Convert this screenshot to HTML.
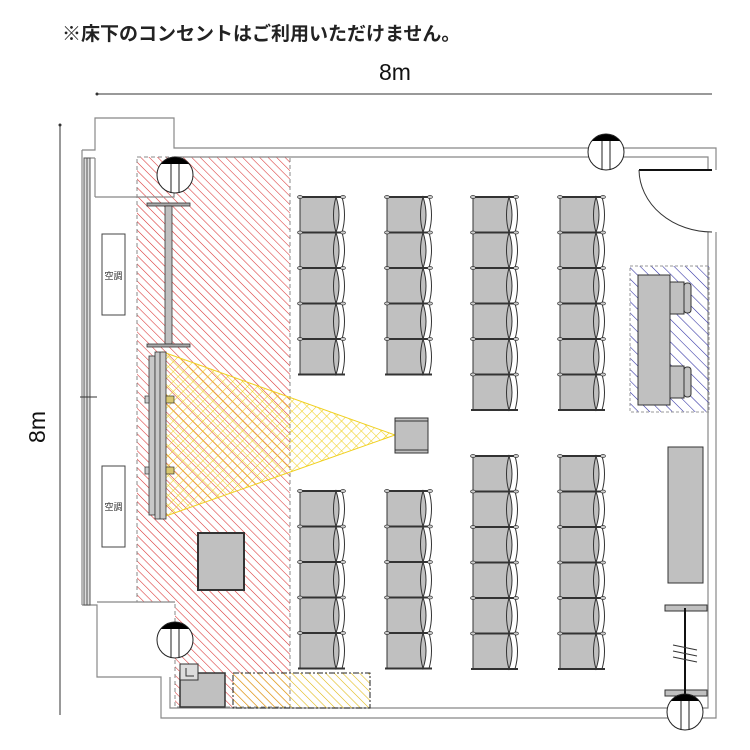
<!DOCTYPE html>
<html><head><meta charset="utf-8"><style>
html,body{margin:0;padding:0;background:#fff;width:750px;height:750px;overflow:hidden}
svg{display:block}
</style></head><body>
<svg width="750" height="750" viewBox="0 0 750 750" xmlns="http://www.w3.org/2000/svg">
<defs>
<pattern id="red" patternUnits="userSpaceOnUse" width="6" height="6" patternTransform="rotate(-45)">
<line x1="0" y1="0" x2="0" y2="6" stroke="#d83030" stroke-width="1.1"/></pattern>
<pattern id="blue" patternUnits="userSpaceOnUse" width="8" height="8" patternTransform="rotate(-45)">
<line x1="0" y1="0" x2="0" y2="8" stroke="#2a2aa0" stroke-width="1.1"/></pattern>
<pattern id="yel" patternUnits="userSpaceOnUse" width="6" height="6" patternTransform="rotate(-45)">
<line x1="0" y1="0" x2="0" y2="6" stroke="#e0b810" stroke-width="1.1"/></pattern>
<pattern id="yx" patternUnits="userSpaceOnUse" width="7" height="7" patternTransform="rotate(45)">
<line x1="0" y1="0" x2="0" y2="7" stroke="#f0d020" stroke-width="1.1"/><line x1="0" y1="0" x2="7" y2="0" stroke="#f0d020" stroke-width="1.1"/></pattern>
<g id="ch">
<rect x="2" y="0" width="36" height="35.5" fill="#c0c0c0" stroke="#333" stroke-width="1"/>
<path d="M38 0 Q44 18 38 35.5 Q33 18 38 0Z" fill="#c0c0c0" stroke="#333" stroke-width="1"/>
<path d="M44 0 Q49 18 44 35.5" fill="none" stroke="#333" stroke-width="1"/>
<line x1="0" y1="0" x2="47" y2="0" stroke="#333" stroke-width="2"/>
<ellipse cx="2" cy="0" rx="2.5" ry="1.5" fill="#ccc" stroke="#333" stroke-width=".7"/>
<ellipse cx="45" cy="0" rx="2.5" ry="1.5" fill="#ccc" stroke="#333" stroke-width=".7"/>
</g>
<g id="out">
<circle cx="0" cy="0" r="18" fill="#fff" stroke="#222" stroke-width="1"/>
<path d="M-14 -11 A18 18 0 0 1 14 -11Z" fill="#000"/>
<line x1="-4" y1="-11" x2="-4" y2="18" stroke="#222"/><line x1="4" y1="-11" x2="4" y2="18" stroke="#222"/>
</g>
</defs>

<text x="62" y="40" font-family="'Liberation Sans','Noto Sans CJK JP',sans-serif" font-size="19" font-weight="bold" fill="#222">※床下のコンセントはご利用いただけません。</text>
<text x="379" y="80" font-family="'Liberation Sans',sans-serif" font-size="23" fill="#111">8m</text>
<line x1="97" y1="94" x2="712" y2="94" stroke="#333"/>
<circle cx="97" cy="94" r="1.5" fill="#333"/>
<text transform="translate(45,427) rotate(-90)" text-anchor="middle" font-family="'Liberation Sans',sans-serif" font-size="23" fill="#111">8m</text>
<line x1="60" y1="125" x2="60" y2="715" stroke="#333"/>
<circle cx="60" cy="125" r="1.5" fill="#333"/>

<path d="M137 157 H290 V707 H175 V602 H137Z" fill="url(#red)" stroke="#888" stroke-dasharray="4,3"/>
<g fill="none" stroke="#888" stroke-width="1.2">
<path d="M82 150 H95 V118 H174 V148 H716 V170"/>
<path d="M90 158 H95"/>
<path d="M174 157 H708 V170"/>
<path d="M716 232 V718 H161 V677 H97 V605 H82"/>
<path d="M708 232 V708 H170 V677"/>
<path d="M95 197 H174 V157"/>
<path d="M95 197 V158"/>
<path d="M97 602 H175"/>
<path d="M82 150 V605"/>
</g>
<rect x="84" y="158" width="6" height="447" fill="#ddd" stroke="#555"/>
<line x1="87" y1="158" x2="87" y2="605" stroke="#555"/>
<line x1="80" y1="397" x2="97" y2="397" stroke="#333"/>
<line x1="639" y1="170" x2="712" y2="170" stroke="#111" stroke-width="2"/>
<path d="M639 170 A73 63 0 0 0 712 232" fill="none" stroke="#333"/>

<rect x="102" y="234" width="23" height="81" fill="#fff" stroke="#444"/>
<text x="113.5" y="279" text-anchor="middle" font-family="'Noto Sans CJK JP',sans-serif" font-size="9" fill="#333">空調</text>
<rect x="102" y="466" width="23" height="81" fill="#fff" stroke="#444"/>
<text x="113.5" y="510" text-anchor="middle" font-family="'Noto Sans CJK JP',sans-serif" font-size="9" fill="#333">空調</text>

<rect x="147" y="203" width="43" height="3" fill="#aaa" stroke="#333" stroke-width=".8"/>
<rect x="165" y="206" width="7" height="138" fill="#c0c0c0" stroke="#333" stroke-width=".8"/>
<rect x="147" y="344" width="43" height="3" fill="#aaa" stroke="#333" stroke-width=".8"/>
<path d="M163 352 L395 435 L163 517Z" fill="url(#yx)" stroke="#f0d020" stroke-width="1"/>
<rect x="149" y="356" width="6" height="159" fill="#c8c8c8" stroke="#333" stroke-width=".8"/>
<rect x="155" y="352" width="11" height="167" fill="#c8c8c8" stroke="#333" stroke-width=".8"/>
<line x1="160" y1="352" x2="160" y2="519" stroke="#333" stroke-width=".8"/>
<rect x="145" y="396" width="4" height="7" fill="#ccc" stroke="#333" stroke-width=".7"/>
<rect x="145" y="467" width="4" height="7" fill="#ccc" stroke="#333" stroke-width=".7"/>
<rect x="166" y="396" width="8" height="7" fill="#d8c870" stroke="#333" stroke-width=".7"/>
<rect x="166" y="467" width="8" height="7" fill="#d8c870" stroke="#333" stroke-width=".7"/>
<rect x="395" y="418" width="33" height="35" fill="#c0c0c0" stroke="#333"/>
<line x1="395" y1="421" x2="428" y2="421" stroke="#333"/><line x1="395" y1="450" x2="428" y2="450" stroke="#333"/>

<rect x="198" y="533" width="46" height="57" fill="#c0c0c0" stroke="#333" stroke-width="2"/>
<rect x="180" y="673" width="45" height="34" fill="#c0c0c0" stroke="#333" stroke-width="1.5"/>
<rect x="180" y="664" width="18" height="16" fill="#ddd" stroke="#333"/>
<path d="M186 668 V676 H194" fill="none" stroke="#333"/>
<rect x="233" y="673" width="137" height="35" fill="url(#yel)" stroke="#222" stroke-dasharray="6,2,2,2"/>

<rect x="630" y="266" width="79" height="146" fill="url(#blue)" stroke="#999" stroke-dasharray="3,2"/>
<rect x="638" y="275" width="32" height="130" fill="#c0c0c0" stroke="#333"/>
<rect x="670" y="282" width="14" height="32" fill="#c0c0c0" stroke="#333"/>
<rect x="684" y="283" width="7" height="30" rx="3" fill="#c0c0c0" stroke="#333"/>
<rect x="670" y="366" width="14" height="32" fill="#c0c0c0" stroke="#333"/>
<rect x="684" y="367" width="7" height="30" rx="3" fill="#c0c0c0" stroke="#333"/>
<rect x="668" y="447" width="35" height="136" fill="#c0c0c0" stroke="#333"/>
<rect x="665" y="605" width="42" height="6" fill="#c0c0c0" stroke="#333"/>
<rect x="665" y="690" width="42" height="6" fill="#c0c0c0" stroke="#333"/>
<line x1="685" y1="608" x2="685" y2="700" stroke="#111" stroke-width="2"/>
<g stroke="#333"><line x1="673" y1="645" x2="697" y2="650"/><line x1="673" y1="651" x2="697" y2="656"/><line x1="673" y1="657" x2="697" y2="662"/></g>

<use href="#out" x="175" y="175"/>
<use href="#out" x="606" y="152"/>
<use href="#out" x="175" y="640"/>
<use href="#out" x="685" y="712"/>

<g>
<use href="#ch" x="298" y="197"/><use href="#ch" x="298" y="232.5"/><use href="#ch" x="298" y="268"/><use href="#ch" x="298" y="303.5"/><use href="#ch" x="298" y="339"/>
<use href="#ch" x="385" y="197"/><use href="#ch" x="385" y="232.5"/><use href="#ch" x="385" y="268"/><use href="#ch" x="385" y="303.5"/><use href="#ch" x="385" y="339"/>
<use href="#ch" x="471" y="197"/><use href="#ch" x="471" y="232.5"/><use href="#ch" x="471" y="268"/><use href="#ch" x="471" y="303.5"/><use href="#ch" x="471" y="339"/><use href="#ch" x="471" y="374.5"/>
<use href="#ch" x="558" y="197"/><use href="#ch" x="558" y="232.5"/><use href="#ch" x="558" y="268"/><use href="#ch" x="558" y="303.5"/><use href="#ch" x="558" y="339"/><use href="#ch" x="558" y="374.5"/>
<use href="#ch" x="298" y="491"/><use href="#ch" x="298" y="526.5"/><use href="#ch" x="298" y="562"/><use href="#ch" x="298" y="597.5"/><use href="#ch" x="298" y="633"/>
<use href="#ch" x="385" y="491"/><use href="#ch" x="385" y="526.5"/><use href="#ch" x="385" y="562"/><use href="#ch" x="385" y="597.5"/><use href="#ch" x="385" y="633"/>
<use href="#ch" x="471" y="456"/><use href="#ch" x="471" y="491.5"/><use href="#ch" x="471" y="527"/><use href="#ch" x="471" y="562.5"/><use href="#ch" x="471" y="598"/><use href="#ch" x="471" y="633.5"/>
<use href="#ch" x="558" y="456"/><use href="#ch" x="558" y="491.5"/><use href="#ch" x="558" y="527"/><use href="#ch" x="558" y="562.5"/><use href="#ch" x="558" y="598"/><use href="#ch" x="558" y="633.5"/>
</g>
<g stroke="#333" stroke-width="2">
<line x1="298" y1="374.5" x2="345" y2="374.5"/><line x1="385" y1="374.5" x2="432" y2="374.5"/>
<line x1="471" y1="410" x2="518" y2="410"/><line x1="558" y1="410" x2="605" y2="410"/>
<line x1="298" y1="668.5" x2="345" y2="668.5"/><line x1="385" y1="668.5" x2="432" y2="668.5"/>
<line x1="471" y1="669" x2="518" y2="669"/><line x1="558" y1="669" x2="605" y2="669"/>
</g>
</svg>
</body></html>
